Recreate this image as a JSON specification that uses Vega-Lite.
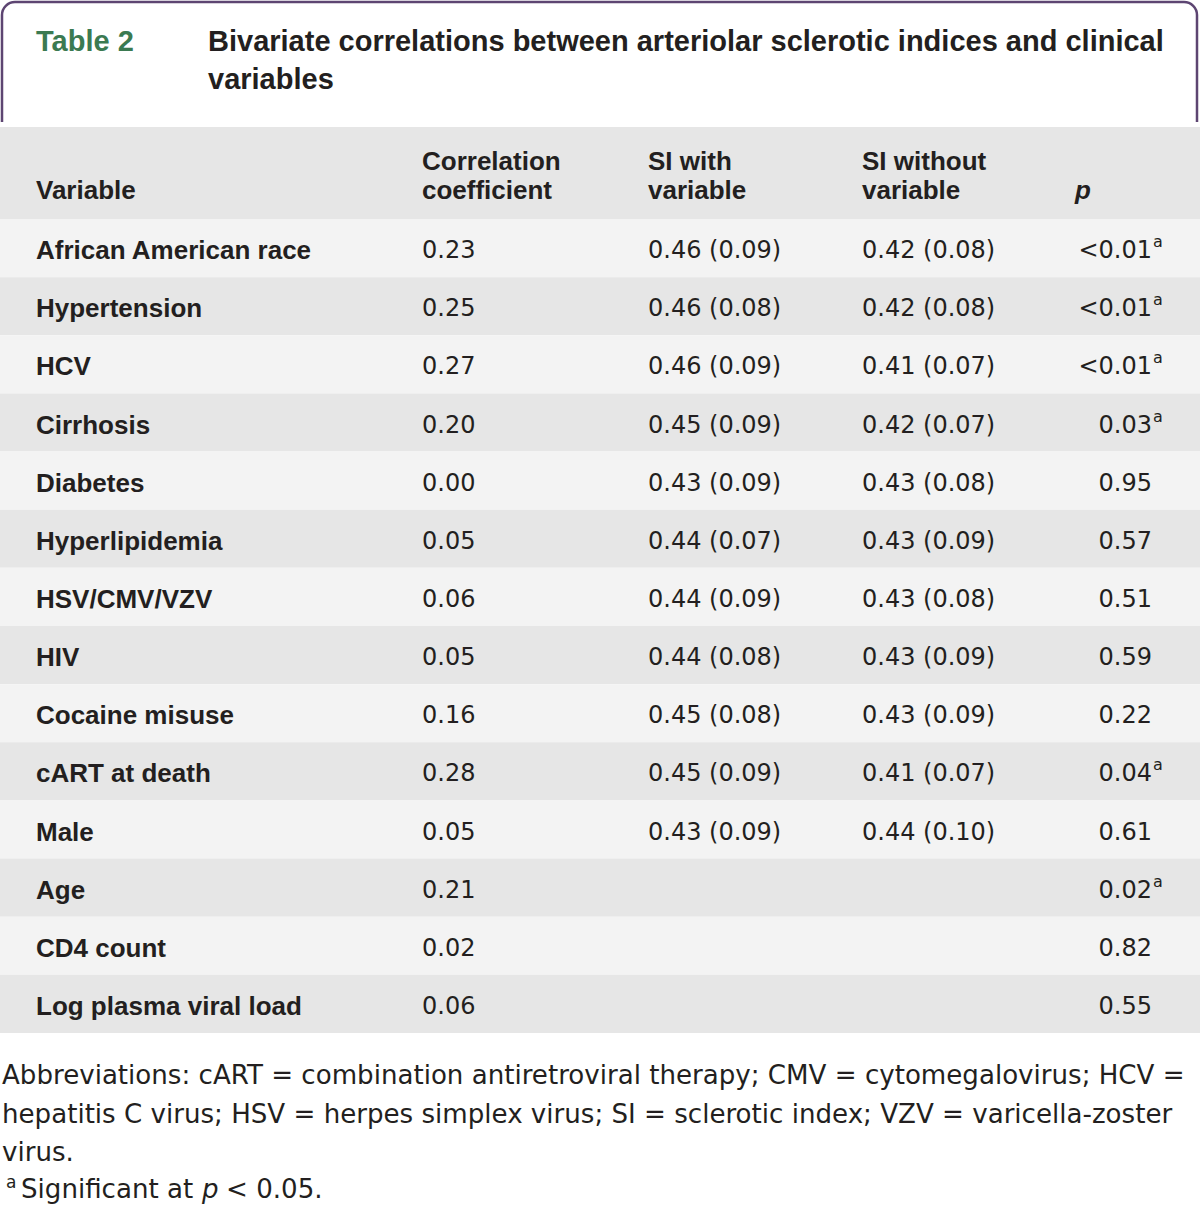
{
  "$schema": "https://vega.github.io/schema/vega-lite/v6.json",
  "width": 1200,
  "height": 1209,
  "autosize": {"type": "fit", "contains": "padding"},
  "padding": 0,
  "background": "white",
  "config": {"view": {"stroke": null}, "text": {"font": "Liberation Sans", "color": "#231f20"}},
  "data": {
    "values": [
      {"Variable": "African American race", "r": 0.23, "si_with": "0.46 (0.09)", "si_without": "0.42 (0.08)", "p": "<0.01", "sig": "a"},
      {"Variable": "Hypertension", "r": 0.25, "si_with": "0.46 (0.08)", "si_without": "0.42 (0.08)", "p": "<0.01", "sig": "a"},
      {"Variable": "HCV", "r": 0.27, "si_with": "0.46 (0.09)", "si_without": "0.41 (0.07)", "p": "<0.01", "sig": "a"},
      {"Variable": "Cirrhosis", "r": 0.20, "si_with": "0.45 (0.09)", "si_without": "0.42 (0.07)", "p": "0.03", "sig": "a"},
      {"Variable": "Diabetes", "r": 0.00, "si_with": "0.43 (0.09)", "si_without": "0.43 (0.08)", "p": "0.95", "sig": ""},
      {"Variable": "Hyperlipidemia", "r": 0.05, "si_with": "0.44 (0.07)", "si_without": "0.43 (0.09)", "p": "0.57", "sig": ""},
      {"Variable": "HSV/CMV/VZV", "r": 0.06, "si_with": "0.44 (0.09)", "si_without": "0.43 (0.08)", "p": "0.51", "sig": ""},
      {"Variable": "HIV", "r": 0.05, "si_with": "0.44 (0.08)", "si_without": "0.43 (0.09)", "p": "0.59", "sig": ""},
      {"Variable": "Cocaine misuse", "r": 0.16, "si_with": "0.45 (0.08)", "si_without": "0.43 (0.09)", "p": "0.22", "sig": ""},
      {"Variable": "cART at death", "r": 0.28, "si_with": "0.45 (0.09)", "si_without": "0.41 (0.07)", "p": "0.04", "sig": "a"},
      {"Variable": "Male", "r": 0.05, "si_with": "0.43 (0.09)", "si_without": "0.44 (0.10)", "p": "0.61", "sig": ""},
      {"Variable": "Age", "r": 0.21, "si_with": "", "si_without": "", "p": "0.02", "sig": "a"},
      {"Variable": "CD4 count", "r": 0.02, "si_with": "", "si_without": "", "p": "0.82", "sig": ""},
      {"Variable": "Log plasma viral load", "r": 0.06, "si_with": "", "si_without": "", "p": "0.55", "sig": ""}
    ]
  },
  "layer": [
    {
      "data": {"values": [{}]},
      "mark": {"type": "rect", "fill": "white", "stroke": "#5d4572", "strokeWidth": 2.5, "cornerRadius": 13},
      "encoding": {"x": {"value": 2}, "x2": {"value": 1197}, "y": {"value": 2}, "y2": {"value": 160}}
    },
    {
      "data": {"values": [{}]},
      "mark": {"type": "rect", "fill": "white"},
      "encoding": {"x": {"value": 0}, "x2": {"value": 1200}, "y": {"value": 122}, "y2": {"value": 127}}
    },
    {
      "data": {"values": [{}]},
      "mark": {"type": "rect", "fill": "#e6e6e6"},
      "encoding": {"x": {"value": 0}, "x2": {"value": 1200}, "y": {"value": 127}, "y2": {"value": 219}}
    },
    {
      "transform": [{"window": [{"op": "row_number", "as": "rn"}]}],
      "mark": {"type": "rect"},
      "encoding": {
        "y": {
          "field": "Variable", "type": "nominal", "sort": null, "axis": null,
          "scale": {"range": [219, 1033], "paddingInner": 0, "paddingOuter": 0}
        },
        "fill": {"condition": {"test": "datum.rn % 2 === 1", "value": "#f3f3f3"}, "value": "#e6e6e6"}
      }
    },
    {
      "mark": {"type": "text", "align": "left", "baseline": "middle", "fontSize": 26, "fontWeight": "bold", "x": 36, "dy": 3},
      "encoding": {"y": {"field": "Variable", "type": "nominal", "sort": null, "axis": null}, "text": {"field": "Variable"}}
    },
    {
      "mark": {"type": "text", "align": "left", "baseline": "middle", "font": "DejaVu Sans", "fontSize": 24, "x": 422, "dy": 3},
      "encoding": {"y": {"field": "Variable", "type": "nominal", "sort": null, "axis": null}, "text": {"field": "r", "type": "quantitative", "format": ".2f"}}
    },
    {
      "mark": {"type": "text", "align": "left", "baseline": "middle", "font": "DejaVu Sans", "fontSize": 24, "x": 648, "dy": 3},
      "encoding": {"y": {"field": "Variable", "type": "nominal", "sort": null, "axis": null}, "text": {"field": "si_with"}}
    },
    {
      "mark": {"type": "text", "align": "left", "baseline": "middle", "font": "DejaVu Sans", "fontSize": 24, "x": 862, "dy": 3},
      "encoding": {"y": {"field": "Variable", "type": "nominal", "sort": null, "axis": null}, "text": {"field": "si_without"}}
    },
    {
      "mark": {"type": "text", "align": "right", "baseline": "middle", "font": "DejaVu Sans", "fontSize": 24, "x": 1152, "dy": 3},
      "encoding": {"y": {"field": "Variable", "type": "nominal", "sort": null, "axis": null}, "text": {"field": "p"}}
    },
    {
      "mark": {"type": "text", "align": "left", "baseline": "middle", "font": "DejaVu Sans", "fontSize": 16, "x": 1153, "dy": -6},
      "encoding": {"y": {"field": "Variable", "type": "nominal", "sort": null, "axis": null}, "text": {"field": "sig"}}
    },
    {
      "data": {"values": [{}]},
      "mark": {"type": "text", "align": "left", "baseline": "alphabetic", "fontSize": 29, "fontWeight": "bold", "color": "#3b7a51", "x": 36, "y": 51, "text": "Table 2"}
    },
    {
      "data": {"values": [{}]},
      "mark": {"type": "text", "align": "left", "baseline": "alphabetic", "fontSize": 29, "fontWeight": "bold", "x": 208, "y": 51, "lineHeight": 38,
        "text": ["Bivariate correlations between arteriolar sclerotic indices and clinical", "variables"]}
    },
    {
      "data": {"values": [{}]},
      "mark": {"type": "text", "align": "left", "baseline": "alphabetic", "fontSize": 26, "fontWeight": "bold", "x": 36, "y": 199, "text": "Variable"}
    },
    {
      "data": {"values": [{}]},
      "mark": {"type": "text", "align": "left", "baseline": "alphabetic", "fontSize": 26, "fontWeight": "bold", "x": 422, "y": 170, "lineHeight": 29, "text": ["Correlation", "coefficient"]}
    },
    {
      "data": {"values": [{}]},
      "mark": {"type": "text", "align": "left", "baseline": "alphabetic", "fontSize": 26, "fontWeight": "bold", "x": 648, "y": 170, "lineHeight": 29, "text": ["SI with", "variable"]}
    },
    {
      "data": {"values": [{}]},
      "mark": {"type": "text", "align": "left", "baseline": "alphabetic", "fontSize": 26, "fontWeight": "bold", "x": 862, "y": 170, "lineHeight": 29, "text": ["SI without", "variable"]}
    },
    {
      "data": {"values": [{}]},
      "mark": {"type": "text", "align": "left", "baseline": "alphabetic", "fontSize": 26, "fontWeight": "bold", "fontStyle": "italic", "x": 1075, "y": 199, "text": "p"}
    },
    {
      "data": {"values": [{}]},
      "mark": {"type": "text", "align": "left", "baseline": "alphabetic", "font": "DejaVu Sans", "fontSize": 26.1, "x": 2, "y": 1084, "lineHeight": 38.7,
        "text": ["Abbreviations: cART = combination antiretroviral therapy; CMV = cytomegalovirus; HCV =", "hepatitis C virus; HSV = herpes simplex virus; SI = sclerotic index; VZV = varicella-zoster", "virus."]}
    },
    {
      "data": {"values": [{}]},
      "mark": {"type": "text", "align": "left", "baseline": "alphabetic", "font": "DejaVu Sans", "fontSize": 17, "x": 6, "y": 1188, "text": "a"}
    },
    {
      "data": {"values": [{}]},
      "mark": {"type": "text", "align": "left", "baseline": "alphabetic", "font": "DejaVu Sans", "fontSize": 26.1, "x": 21, "y": 1198, "text": "Significant at"}
    },
    {
      "data": {"values": [{}]},
      "mark": {"type": "text", "align": "left", "baseline": "alphabetic", "font": "DejaVu Sans", "fontSize": 26.1, "fontStyle": "italic", "x": 202, "y": 1198, "text": "p"}
    },
    {
      "data": {"values": [{}]},
      "mark": {"type": "text", "align": "left", "baseline": "alphabetic", "font": "DejaVu Sans", "fontSize": 26.1, "x": 226, "y": 1198, "text": "< 0.05."}
    }
  ]
}
